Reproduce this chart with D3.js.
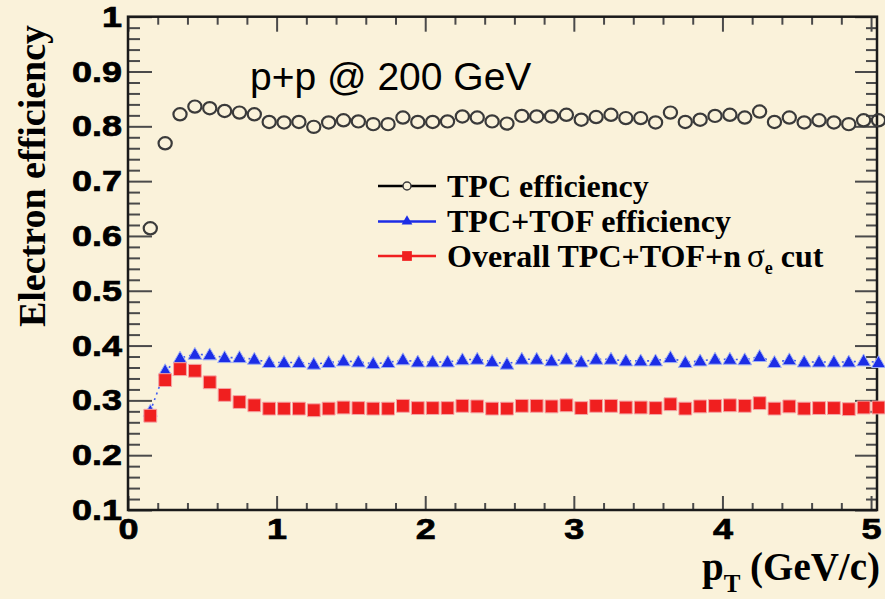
<!DOCTYPE html>
<html>
<head>
<meta charset="utf-8">
<script src="https://cdn.jsdelivr.net/npm/d3@7"></script>
<style>
  html, body { margin: 0; padding: 0; background: #faf2da; }
  svg { display: block; }
</style>
</head>
<body>
<svg id="chart" width="885" height="599"></svg>
<script>
// Electron identification efficiency vs pT, p+p @ 200 GeV

const pT = [0.15, 0.25, 0.35, 0.45, 0.55, 0.65, 0.75, 0.85, 0.95, 1.05,
            1.15, 1.25, 1.35, 1.45, 1.55, 1.65, 1.75, 1.85, 1.95, 2.05,
            2.15, 2.25, 2.35, 2.45, 2.55, 2.65, 2.75, 2.85, 2.95, 3.05,
            3.15, 3.25, 3.35, 3.45, 3.55, 3.65, 3.75, 3.85, 3.95, 4.05,
            4.15, 4.25, 4.35, 4.45, 4.55, 4.65, 4.75, 4.85, 4.95, 5.05];

const tpcEff = [0.614, 0.769, 0.822, 0.836, 0.833, 0.828, 0.825, 0.822, 0.808, 0.807,
                0.808, 0.799, 0.807, 0.811, 0.809, 0.804, 0.804, 0.816, 0.808, 0.808,
                0.809, 0.818, 0.816, 0.809, 0.805, 0.819, 0.818, 0.818, 0.821, 0.812,
                0.817, 0.821, 0.815, 0.815, 0.807, 0.825, 0.808, 0.812, 0.819, 0.821,
                0.816, 0.827, 0.808, 0.816, 0.807, 0.811, 0.807, 0.804, 0.811, 0.811];

const tofEff = [0.280, 0.354, 0.377, 0.384, 0.383, 0.378, 0.378, 0.375, 0.369, 0.369,
                0.369, 0.366, 0.369, 0.372, 0.370, 0.367, 0.369, 0.374, 0.370, 0.370,
                0.370, 0.374, 0.375, 0.371, 0.366, 0.375, 0.375, 0.372, 0.375, 0.370,
                0.375, 0.375, 0.372, 0.372, 0.372, 0.378, 0.369, 0.372, 0.375, 0.375,
                0.374, 0.380, 0.369, 0.374, 0.370, 0.370, 0.370, 0.370, 0.372, 0.369];

const overallEff = [0.272, 0.337, 0.357, 0.354, 0.333, 0.310, 0.297, 0.291, 0.285, 0.285,
                    0.285, 0.282, 0.285, 0.287, 0.286, 0.285, 0.285, 0.290, 0.286, 0.286,
                    0.286, 0.290, 0.289, 0.285, 0.285, 0.290, 0.290, 0.289, 0.291, 0.286,
                    0.290, 0.290, 0.287, 0.287, 0.286, 0.293, 0.285, 0.289, 0.290, 0.291,
                    0.290, 0.295, 0.285, 0.289, 0.285, 0.286, 0.286, 0.284, 0.287, 0.287];

const xTicks = [0, 1, 2, 3, 4, 5];
const xTickLabels = ["0", "1", "2", "3", "4", "5"];
const yTicks = [0.1, 0.2, 0.3, 0.4, 0.5, 0.6, 0.7, 0.8, 0.9, 1.0];
const yTickLabels = ["0.1", "0.2", "0.3", "0.4", "0.5", "0.6", "0.7", "0.8", "0.9", "1"];

const legendLabels = ["TPC efficiency", "TPC+TOF efficiency", "Overall TPC+TOF+n"];

const svg = d3.select("#chart");
const W = 885, H = 599;
const frame = { left: 128, right: 877, top: 16.7, bottom: 510 };

svg.append("rect").attr("width", W).attr("height", H).attr("fill", "#faf2da");

const x = d3.scaleLinear().domain([0, 5.04]).range([frame.left, frame.right]);
const y = d3.scaleLinear().domain([0.1, 1.0]).range([frame.bottom, frame.top]);

const tickColor = "#4a4a4a";
const labelFont = "'Liberation Sans', Arial, Helvetica, sans-serif";
const serifFont = "'Liberation Serif', 'Times New Roman', Times, serif";

function range(a, b, step) {
  const out = [];
  for (let v = a; v <= b + 1e-9; v += step) out.push(+v.toFixed(4));
  return out;
}
const xMinor = range(0, 5.0, 0.2).filter(v => Math.abs(v - Math.round(v)) > 1e-6);
const yMinor = range(0.1, 1.0, 0.02).filter(v => Math.abs(v * 10 - Math.round(v * 10)) > 1e-6);

function styleAxis(g) {
  g.select(".domain").remove();
  g.selectAll(".tick line").attr("stroke", tickColor).attr("stroke-width", 2);
}
function styleLabels(g) {
  g.selectAll(".tick text")
    .attr("font-family", labelFont).attr("font-weight", "bold").attr("font-size", 30)
    .attr("fill", "#000").attr("stroke", "#000").attr("stroke-width", 0.7)
    .attr("transform", "scale(1.2,1)");
}

// bottom axis, ticks pointing into the frame
const gxB = svg.append("g").attr("transform", `translate(0,${frame.bottom})`)
  .call(d3.axisBottom(x).tickValues(xTicks).tickSizeInner(-14).tickSizeOuter(0).tickPadding(8)
        .tickFormat((d, i) => xTickLabels[i]));
styleAxis(gxB);
styleLabels(gxB);
svg.append("g").attr("transform", `translate(0,${frame.bottom})`)
  .call(d3.axisBottom(x).tickValues(xMinor).tickSizeInner(-7).tickSizeOuter(0).tickFormat(""))
  .call(styleAxis);

// top axis
svg.append("g").attr("transform", `translate(0,${frame.top})`)
  .call(d3.axisTop(x).tickValues(xTicks).tickSizeInner(-15).tickSizeOuter(0).tickFormat(""))
  .call(styleAxis);
svg.append("g").attr("transform", `translate(0,${frame.top})`)
  .call(d3.axisTop(x).tickValues(xMinor).tickSizeInner(-8).tickSizeOuter(0).tickFormat(""))
  .call(styleAxis);

// left axis
const gyL = svg.append("g").attr("transform", `translate(${frame.left},0)`)
  .call(d3.axisLeft(y).tickValues(yTicks).tickSizeInner(-24).tickSizeOuter(0).tickPadding(5)
        .tickFormat((d, i) => yTickLabels[i]));
styleAxis(gyL);
styleLabels(gyL);
svg.append("g").attr("transform", `translate(${frame.left},0)`)
  .call(d3.axisLeft(y).tickValues(yMinor).tickSizeInner(-12).tickSizeOuter(0).tickFormat(""))
  .call(styleAxis);

// right axis
svg.append("g").attr("transform", `translate(${frame.right},0)`)
  .call(d3.axisRight(y).tickValues(yTicks).tickSizeInner(-22).tickSizeOuter(0).tickFormat(""))
  .call(styleAxis);
svg.append("g").attr("transform", `translate(${frame.right},0)`)
  .call(d3.axisRight(y).tickValues(yMinor).tickSizeInner(-11).tickSizeOuter(0).tickFormat(""))
  .call(styleAxis);

// frame
svg.append("rect")
  .attr("x", frame.left).attr("y", frame.top)
  .attr("width", frame.right - frame.left).attr("height", frame.bottom - frame.top)
  .attr("fill", "none").attr("stroke", "#1a1a1a").attr("stroke-width", 2.5);

// axis titles
svg.append("text")
  .attr("transform", `translate(45,176) rotate(-90)`)
  .attr("text-anchor", "middle")
  .attr("font-family", serifFont).attr("font-weight", "bold").attr("font-size", 38)
  .attr("fill", "#000")
  .text("Electron efficiency");

const xt = svg.append("text")
  .attr("x", 880).attr("y", 580)
  .attr("text-anchor", "end")
  .attr("font-family", serifFont).attr("font-weight", "bold").attr("font-size", 39)
  .attr("fill", "#000");
xt.append("tspan").text("p");
xt.append("tspan").attr("font-size", 25).attr("dy", 12).text("T");
xt.append("tspan").attr("dy", -12).text(" (GeV/c)");

// collision system label
svg.append("text")
  .attr("x", 250).attr("y", 90)
  .attr("font-family", labelFont).attr("font-size", 39).attr("fill", "#000")
  .text("p+p @ 200 GeV");

// colours
const cTPC = "#3a3a3a", cTOF = "#1c2de6", cAll = "#f01f1f";

const triangle = d3.symbol().type(d3.symbolTriangle).size(82);
const square = d3.symbol().type(d3.symbolSquare).size(165);

// TPC+TOF: thin connecting line, then triangles
svg.append("path")
  .datum(pT.map((p, i) => [p, tofEff[i]]))
  .attr("d", d3.line().x(d => x(d[0])).y(d => y(d[1])))
  .attr("fill", "none").attr("stroke", "#3f5af0").attr("stroke-width", 1.6)
  .attr("stroke-dasharray", "2,4");

svg.append("g").selectAll("path")
  .data(pT.map((p, i) => [p, tofEff[i]]))
  .join("path")
  .attr("transform", d => `translate(${x(d[0])},${y(d[1]) + 1})`)
  .attr("d", triangle)
  .attr("fill", cTOF).attr("stroke", "#9fb0f5").attr("stroke-width", 1);

// overall: red squares
svg.append("g").selectAll("path")
  .data(pT.map((p, i) => [p, overallEff[i]]))
  .join("path")
  .attr("transform", d => `translate(${x(d[0])},${y(d[1])})`)
  .attr("d", square)
  .attr("fill", cAll).attr("stroke", "#f5a5a5").attr("stroke-width", 1);

// TPC: open circles
svg.append("g").selectAll("ellipse")
  .data(pT.map((p, i) => [p, tpcEff[i]]))
  .join("ellipse")
  .attr("cx", d => x(d[0])).attr("cy", d => y(d[1]))
  .attr("rx", 6.6).attr("ry", 6.1)
  .attr("fill", "none").attr("stroke", cTPC).attr("stroke-width", 2.2);

// legend
const legY = [186, 221.5, 256];
const leg = svg.append("g");
const legColors = [cTPC, cTOF, cAll];
legY.forEach((ly, i) => {
  leg.append("line").attr("x1", 378).attr("x2", 436).attr("y1", ly).attr("y2", ly)
    .attr("stroke", i === 0 ? "#000" : legColors[i]).attr("stroke-width", 2.5);
});
leg.append("circle").attr("cx", 407).attr("cy", legY[0]).attr("r", 4)
  .attr("fill", "#faf2da").attr("stroke", cTPC).attr("stroke-width", 1.5);
leg.append("path").attr("transform", `translate(407,${legY[1]})`)
  .attr("d", d3.symbol().type(d3.symbolTriangle).size(50)).attr("fill", cTOF);
leg.append("path").attr("transform", `translate(407,${legY[2]})`)
  .attr("d", d3.symbol().type(d3.symbolSquare).size(95)).attr("fill", cAll);

legY.forEach((ly, i) => {
  const t = leg.append("text").attr("x", 447).attr("y", ly + 10.5)
    .attr("font-family", serifFont).attr("font-weight", "bold").attr("font-size", 32)
    .attr("fill", "#000");
  t.append("tspan").text(legendLabels[i]);
  if (i === 2) {
    t.append("tspan").attr("dx", 6).attr("font-weight", "normal").attr("font-size", 33).text("σ");
    t.append("tspan").attr("font-size", 18).attr("dy", 7).text("e");
    t.append("tspan").attr("dy", -7).text(" cut");
  }
});
</script>
</body>
</html>
